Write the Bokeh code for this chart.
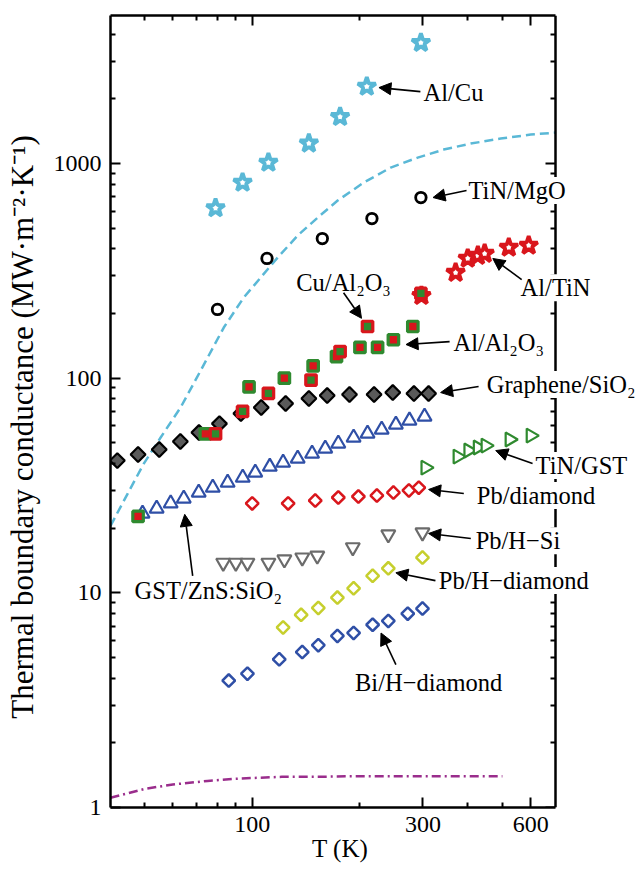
import numpy as np
from bokeh.plotting import figure
from bokeh.models import (LogAxis, FixedTicker, PrintfTickFormatter, CustomJSTickFormatter,
                          Label, Arrow, NormalHead, Range1d)
from bokeh.embed import file_html
from bokeh.resources import INLINE

# ---------------- data (T in K, G in MW m^-2 K^-1) ----------------
T_AlCu = [79, 94, 111, 144, 176, 209, 296]
G_AlCu = [620, 815, 1010, 1240, 1650, 2280, 3650]

T_TiNMgO = [80, 110, 157, 216, 296]
G_TiNMgO = [209, 361, 447, 554, 694]

T_AlTiN = [297, 370, 400, 427, 446, 521, 592]
G_AlTiN = [242, 310, 361, 372, 380, 406, 415]

T_CuAl2O3 = [79, 94, 111, 146, 176, 210, 296]
G_CuAl2O3 = [55, 70, 85, 98, 133, 174, 248]

T_AlAl2O3 = [48, 74, 98, 123, 148, 172, 200, 224, 248, 281]
G_AlAl2O3 = [22.7, 55, 91, 100, 114, 126, 139, 139, 151, 174]

T_Graphene = [42, 48, 55, 63, 71, 81, 93, 106, 124, 144, 162, 187, 219, 247, 283, 311]
G_Graphene = [41.3, 44.1, 46.5, 50.7, 55.8, 61.4, 68.4, 73.0, 76.2, 80.4, 83.0, 83.9,
              83.9, 85.7, 84.8, 84.8]

T_GST = [49.4, 54.1, 59.2, 64.4, 70.9, 77.6, 85.4, 94.1, 102, 112, 122, 134, 147, 160,
         174, 192, 210, 230, 252, 275, 303]
G_GST = [23.4, 24.7, 26.1, 27.5, 29.3, 30.9, 32.6, 34.4, 36.3, 38.7, 40.4, 42.2, 44.5,
         47.0, 49.6, 52.9, 55.2, 57.6, 60.8, 63.5, 66.2]

T_TiNGST = [305, 375, 402, 427, 449, 524, 600]
G_TiNGST = [38.3, 43.1, 46.0, 47.5, 48.5, 51.8, 54.0]

T_PbDia = [100, 126, 150, 174, 198, 223, 248, 274, 292]
G_PbDia = [26.1, 26.1, 26.9, 27.8, 28.1, 28.4, 29.3, 30.0, 30.9]

T_PbHSi = [83, 90, 97, 111, 123, 138, 152, 191, 240, 299]
G_PbHSi = [13.8, 13.8, 13.8, 13.8, 14.3, 14.6, 14.9, 16.3, 18.7, 19.1]

T_PbHDia = [122, 137, 153, 173, 192, 217, 240, 299]
G_PbHDia = [6.9, 7.9, 8.5, 9.5, 10.5, 12.0, 13.0, 14.6]

T_BiHDia = [86, 97, 119, 138, 153, 173, 192, 217, 240, 272, 299]
G_BiHDia = [3.9, 4.2, 4.9, 5.3, 5.7, 6.3, 6.5, 7.1, 7.4, 8.0, 8.45]

# dashed model curve
T_dash = [40.2, 44.9, 49.8, 55.5, 63.1, 71.8, 83.3, 94.7, 105.6, 117.8, 134, 152.4, 173.3,
          204.9, 243.7, 290, 342.7, 407.6, 494.5, 600, 704]
G_dash = [20.5, 29.0, 40.0, 52.9, 73.0, 108.5, 172.1, 237.4, 294.1, 364.6, 461.5, 559.8,
          671.8, 814.7, 957, 1065, 1161, 1238, 1306, 1363, 1393]

# dash-dot curve
T_dd = [40.2, 50, 60, 75, 89, 121, 153, 195, 314, 500]
G_dd = [1.11, 1.22, 1.28, 1.33, 1.36, 1.39, 1.39, 1.40, 1.40, 1.40]

# axis ticks / limits
X_TICKS = [100, 300, 600]
X_MINOR = [50, 60, 70, 80, 90, 200, 400, 500]
Y_TICKS = [1, 10, 100, 1000]
Y_MINOR = [m * d for d in [1, 10, 100, 1000] for m in range(2, 10) if m * d < 4890]
X_MIN, X_SPINE = 40.2, 704
Y_MIN, Y_MAX = 1, 4890

FONT = "Liberation Serif"
CYAN = "#5ab8d6"
RED = "#d9161c"
GREEN = "#2f8a2f"
GRAY = "#6b6b6b"
BLUE = "#2f4fa6"
YEL = "#c6cf2d"
MAG = "#9a2d8c"

W, H = 638, 872
LEFT, TOP, BOTTOM = 110, 15, 65
FRAME_W = W - LEFT
DECADE_PX = 358.0
X_PLOT_MAX = X_MIN * 10 ** (FRAME_W / DECADE_PX)   # frame extends past the right spine

p = figure(width=W, height=H, x_axis_type="log", y_axis_type="log",
           x_range=Range1d(X_MIN, X_PLOT_MAX), y_range=Range1d(Y_MIN, Y_MAX),
           output_backend="svg", toolbar_location=None,
           min_border_left=LEFT, min_border_right=0, min_border_top=TOP,
           min_border_bottom=BOTTOM)
p.outline_line_color = None
p.xgrid.visible = False
p.ygrid.visible = False
p.background_fill_color = "white"
p.border_fill_color = "white"


def style_axis(ax, show_labels=True):
    ax.axis_line_width = 2.5
    ax.axis_line_color = "black"
    ax.major_tick_in = 10
    ax.major_tick_out = 0
    ax.minor_tick_in = 5
    ax.minor_tick_out = 0
    ax.major_tick_line_width = 2
    ax.minor_tick_line_width = 2
    ax.major_tick_line_color = "black"
    ax.minor_tick_line_color = "black"
    if show_labels:
        ax.major_label_text_font = FONT
        ax.major_label_text_font_size = "24px"
        ax.major_label_text_color = "black"
        ax.major_label_standoff = 9
        ax.formatter = PrintfTickFormatter(format="%d")
        ax.axis_label_text_font = FONT
        ax.axis_label_text_font_style = "normal"
        ax.axis_label_text_color = "black"
    else:
        ax.major_label_text_font_size = "0px"
        ax.major_label_standoff = 0
        ax.formatter = CustomJSTickFormatter(code="return ''")


xa = p.below[0]
ya = p.left[0]
xa.ticker = FixedTicker(ticks=X_TICKS, minor_ticks=X_MINOR)
ya.ticker = FixedTicker(ticks=Y_TICKS, minor_ticks=Y_MINOR)
style_axis(xa)
style_axis(ya)
xa.bounds = (X_MIN, X_SPINE)
xa.axis_label = "T (K)" + "\u00a0" * 11
xa.axis_label_text_font_size = "25px"
xa.axis_label_standoff = 0

ya.axis_label = "Thermal boundary conductance (MW·m⁻²·K⁻¹)" + "\u00a0" * 4
ya.axis_label_text_font_size = "31px"
ya.axis_label_standoff = 11

top = LogAxis(ticker=FixedTicker(ticks=X_TICKS, minor_ticks=X_MINOR), bounds=(X_MIN, X_SPINE))
style_axis(top, False)
p.add_layout(top, "above")
right = LogAxis(ticker=FixedTicker(ticks=Y_TICKS, minor_ticks=Y_MINOR), fixed_location=X_SPINE)
style_axis(right, False)
p.add_layout(right, "right")

# ---------------- curves ----------------
p.line(T_dash, G_dash, line_color=CYAN, line_width=2.5, line_dash="9 5")
p.line(T_dd, G_dd, line_color=MAG, line_width=2.5, line_dash="9 4 2 4")

# ---------------- markers ----------------
p.scatter(T_AlCu, G_AlCu, marker="star", size=19, line_color=CYAN, line_width=3.8,
          fill_color="white")
p.scatter(T_TiNMgO, G_TiNMgO, marker="circle", size=10.5, line_color="black", line_width=2.8,
          fill_color="white")
p.scatter(T_AlTiN, G_AlTiN, marker="star", size=19, line_color=RED, line_width=3.8,
          fill_color="white")
p.scatter(T_Graphene, G_Graphene, marker="square", angle=np.pi / 4, size=10.5,
          line_color="black", line_width=2.2, fill_color="#5a5a5a")
p.scatter(T_GST, G_GST, marker="triangle", size=14, line_color=BLUE, line_width=2.2,
          fill_color="white")
p.scatter(T_TiNGST, G_TiNGST, marker="triangle", angle=-np.pi / 2, size=14, line_color=GREEN,
          line_width=2.2, fill_color="white")
p.scatter(T_PbDia, G_PbDia, marker="square", angle=np.pi / 4, size=9, line_color=RED,
          line_width=2.5, fill_color="white")
p.scatter(T_PbHSi, G_PbHSi, marker="inverted_triangle", size=14, line_color=GRAY,
          line_width=2.2, fill_color="white")
p.scatter(T_PbHDia, G_PbHDia, marker="square", angle=np.pi / 4, size=9, line_color=YEL,
          line_width=2.5, fill_color="white")
p.scatter(T_BiHDia, G_BiHDia, marker="square", angle=np.pi / 4, size=9, line_color=BLUE,
          line_width=2.5, fill_color="white")
p.scatter(T_AlAl2O3, G_AlAl2O3, marker="square", size=10.5, line_color=GREEN, line_width=3.2,
          fill_color=RED)
p.scatter(T_CuAl2O3, G_CuAl2O3, marker="square", size=10.5, line_color=RED, line_width=3.2,
          fill_color=GREEN)


# ---------------- annotations ----------------
def lab(text, x, y, align="left"):
    p.add_layout(Label(x=x, y=y, text=text, text_font=FONT, text_font_size="24.5px",
                       text_align=align, text_baseline="middle", text_color="black",
                       background_fill_color="white"))


def arr(x0, y0, x1, y1):
    p.add_layout(Arrow(end=NormalHead(size=12, fill_color="black", line_color="black",
                                      line_width=1),
                       x_start=x0, y_start=y0, x_end=x1, y_end=y1,
                       line_width=1.6, line_color="black"))


lab("Al/Cu", 301, 2138)
lab("TiN/MgO", 402, 748)
lab("Al/TiN", 562, 264)
lab("Cu/Al₂O₃", 180, 279, align="center")
lab("Al/Al₂O₃", 365, 146.5)
lab("Graphene/SiO₂", 452, 93.4)
lab("TiN/GST", 619, 39.2)
lab("Pb/diamond", 424, 28.4)
lab("GST/ZnS:SiO₂", 75.4, 10.25, align="center")
lab("Pb/H−Si", 421, 17.5)
lab("Pb/H−diamond", 332, 11.4)
lab("Bi/H−diamond", 311, 3.82, align="center")

arr(295, 2162, 226, 2257)
arr(397, 748, 320, 694)
arr(566, 288, 470, 361)
arr(180, 250, 202, 190)
arr(356, 148, 269, 143.4)
arr(429, 91.4, 336, 85.7)
arr(607, 40.0, 479, 46.0)
arr(390, 29.0, 311, 30.3)
arr(68.2, 12.0, 64.8, 23.2)
arr(408, 17.9, 311, 18.9)
arr(325, 11.4, 252, 12.4)
arr(252, 4.63, 229, 6.5)

open("out.html", "w").write(file_html(p, INLINE))
